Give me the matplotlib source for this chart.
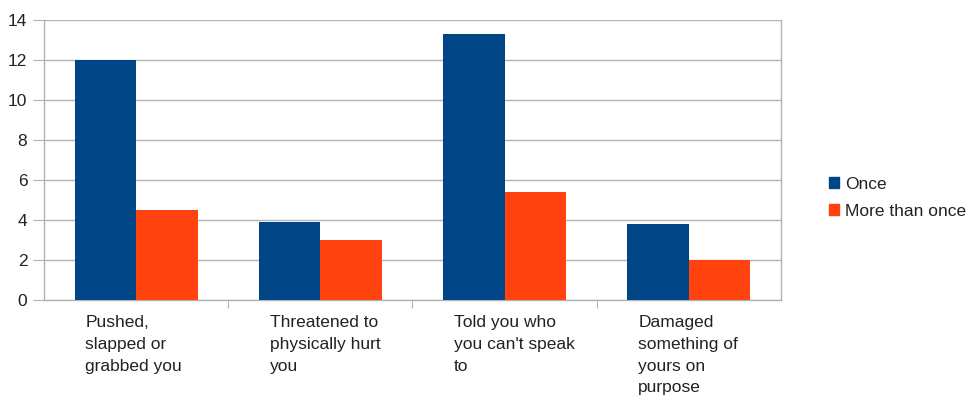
import matplotlib
matplotlib.use("Agg")
import matplotlib.pyplot as plt
from matplotlib.patches import Rectangle
import matplotlib.transforms as mtransforms

categories = [
    "Pushed,\nslapped or\ngrabbed you",
    "Threatened to\nphysically hurt\nyou",
    "Told you who\nyou can't speak\nto",
    "Damaged\nsomething of\nyours on\npurpose",
]
once = [12.0, 3.9, 13.3, 3.8]
more_than_once = [4.5, 3.0, 5.4, 2.0]
series_names = ["Once", "More than once"]
yticks = [0, 2, 4, 6, 8, 10, 12, 14]

BLUE = "#004586"
ORANGE = "#ff420e"
GRID = "#b3b3b3"
TEXT = "#222222"
FS = 12.5

plt.rcParams["font.family"] = ["Liberation Sans", "DejaVu Sans"]

fig = plt.figure(figsize=(9.7, 4.01), dpi=100)
ax = fig.add_axes([44 / 970, 1 - 300 / 401, (781 - 44) / 970, 280 / 401])

w = 1 / 3
xs = list(range(len(categories)))
ax.bar([x - w / 2 for x in xs], once, width=w, color=BLUE, zorder=3)
ax.bar([x + w / 2 for x in xs], more_than_once, width=w, color=ORANGE, zorder=3)

ax.set_xlim(-0.5, len(categories) - 0.5)
ax.set_ylim(0, 14)
ax.set_yticks(yticks)
ax.set_yticklabels([str(v) for v in yticks], fontsize=FS, color=TEXT)
ax.yaxis.grid(True, color=GRID, linewidth=1.0, zorder=0)
ax.tick_params(axis="y", length=8, color=GRID, pad=4)

# category boundaries as x ticks
ax.set_xticks([x + 0.5 for x in xs[:-1]])
ax.set_xticklabels([])
ax.tick_params(axis="x", length=6, color=GRID, direction="out")

for side in ["left", "bottom", "right"]:
    ax.spines[side].set_color(GRID)
    ax.spines[side].set_linewidth(1.0)
ax.spines["top"].set_visible(False)

trans = mtransforms.blended_transform_factory(ax.transData, ax.transAxes)
for x, label in zip(xs, categories):
    ax.text(x - 0.275, -0.055, label, transform=trans, ha="left", va="top",
            fontsize=FS, color=TEXT, linespacing=1.55)

handles = [Rectangle((0, 0), 1, 1, color=BLUE), Rectangle((0, 0), 1, 1, color=ORANGE)]
fig.legend(handles, series_names, loc="center left", bbox_to_anchor=(829 / 970, 1 - 198 / 401),
           frameon=False, fontsize=FS, handlelength=0.6, handleheight=0.6,
           handletextpad=0.35, labelspacing=0.7, labelcolor=TEXT,
           borderpad=0, borderaxespad=0)

fig.savefig("out.png", dpi=100, facecolor="white")
